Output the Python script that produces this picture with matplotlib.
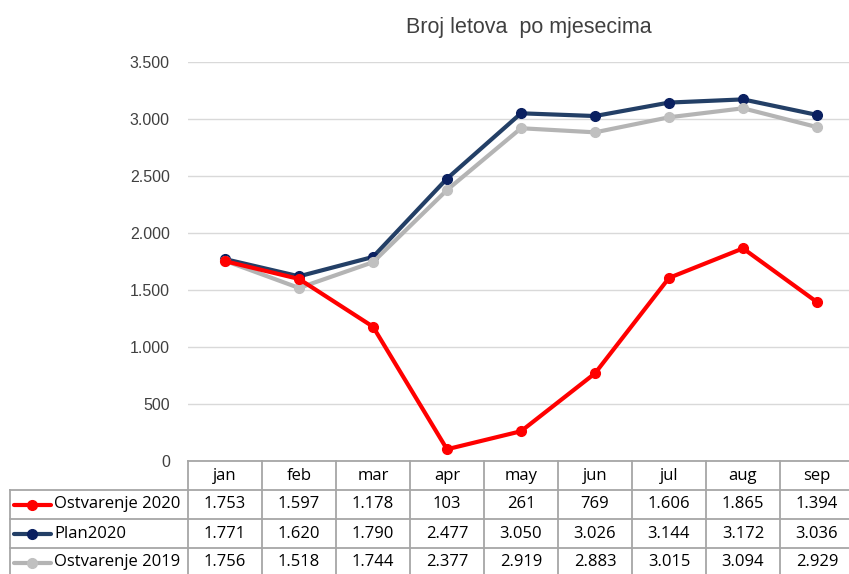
import matplotlib.pyplot as plt
from matplotlib.ticker import FuncFormatter

months = ["jan", "feb", "mar", "apr", "may", "jun", "jul", "aug", "sep"]
ostv_2020 = [1753, 1597, 1178, 103, 261, 769, 1606, 1865, 1394]
plan_2020 = [1771, 1620, 1790, 2477, 3050, 3026, 3144, 3172, 3036]
ostv_2019 = [1756, 1518, 1744, 2377, 2919, 2883, 3015, 3094, 2929]
series_names = ["Ostvarenje 2020", "Plan2020", "Ostvarenje 2019"]

line_colors = ["#FF0000", "#233F66", "#B4B4B4"]
marker_colors = ["#FF0000", "#0A2060", "#C0C0C0"]

W, H = 849, 574
fig = plt.figure(figsize=(W / 100, H / 100), dpi=100)

narrow = ["Liberation Sans Narrow", "Liberation Sans", "DejaVu Sans"]
table_font = ["Open Sans", "DejaVu Sans"]


def fmt(v):
    return f"{v:,}".replace(",", ".")


# main chart axes: x from 188 to 854 px, y from 62 (3500) to 461 (0)
x0, x1 = 188, 854
y_top, y_bot = 62, 461
ax = fig.add_axes([x0 / W, 1 - y_bot / H, (x1 - x0) / W, (y_bot - y_top) / H])
ax.set_xlim(-0.5, len(months) - 0.5)
ax.set_ylim(0, 3500)
ax.set_yticks(range(0, 3501, 500))
ax.yaxis.set_major_formatter(FuncFormatter(lambda v, p: fmt(int(v))))
ax.tick_params(axis="y", length=0, pad=13, labelsize=11.5, labelcolor="#404040")
ax.set_xticks([])
for lbl in ax.get_yticklabels():
    lbl.set_fontfamily(narrow)
ax.grid(axis="y", color="#D9D9D9", linewidth=1)
ax.set_axisbelow(True)
for s in ax.spines.values():
    s.set_visible(False)

xs = range(len(months))
for vals, lc, mc in zip([plan_2020, ostv_2019, ostv_2020], line_colors[1:] + line_colors[:1],
                        marker_colors[1:] + marker_colors[:1]):
    ax.plot(xs, vals, color=lc, linewidth=3, marker="o", markersize=7,
            markerfacecolor=mc, markeredgecolor=mc, clip_on=False, zorder=3)

fig.text(529 / W, 1 - 28 / H, "Broj letova  po mjesecima", ha="center", va="center",
         fontsize=15.5, color="#404040", family=narrow)

# data table below the chart
tx0 = 10
row_h = 29
tab = fig.add_axes([tx0 / W, 0, (x1 - tx0) / W, (H - y_bot) / H])
left_units = (x0 - tx0) / ((x1 - x0) / len(months))
tab.set_xlim(-0.5 - left_units, len(months) - 0.5)
tab.set_ylim(H - y_bot, 0)  # pixel rows from top of table
tab.axis("off")

grid_c = "#A6A6A6"
n_rows = 4
bottom = n_rows * row_h
# horizontal lines
tab.plot([-0.5, len(months) - 0.5], [0, 0], color=grid_c, lw=1.3, clip_on=False)
for r in range(1, n_rows + 1):
    tab.plot([-0.5 - left_units, len(months) - 0.5], [r * row_h, r * row_h],
             color=grid_c, lw=1.3, clip_on=False)
# vertical lines
for c in range(len(months) + 1):
    tab.plot([c - 0.5, c - 0.5], [0, bottom], color=grid_c, lw=1.3, clip_on=False)
tab.plot([-0.5 - left_units] * 2, [row_h, bottom], color=grid_c, lw=1.3, clip_on=False)

for i, m in enumerate(months):
    tab.text(i, row_h / 2, m, ha="center", va="center", fontsize=12, family=table_font)

all_vals = [ostv_2020, plan_2020, ostv_2019]
for r, (name, vals, lc, mc) in enumerate(zip(series_names, all_vals, line_colors, marker_colors)):
    yc = (r + 1.5) * row_h
    lx = -0.5 - left_units
    tab.plot([lx + 0.05, lx + 0.55], [yc, yc], color=lc, lw=3, solid_capstyle="round")
    tab.plot([lx + 0.3], [yc], marker="o", markersize=7, color=mc)
    tab.text(lx + 0.6, yc, name, ha="left", va="center", fontsize=12, family=table_font)
    for i, v in enumerate(vals):
        tab.text(i, yc, fmt(v), ha="center", va="center", fontsize=12, family=table_font)

fig.savefig("out.png", dpi=100, facecolor="white")
